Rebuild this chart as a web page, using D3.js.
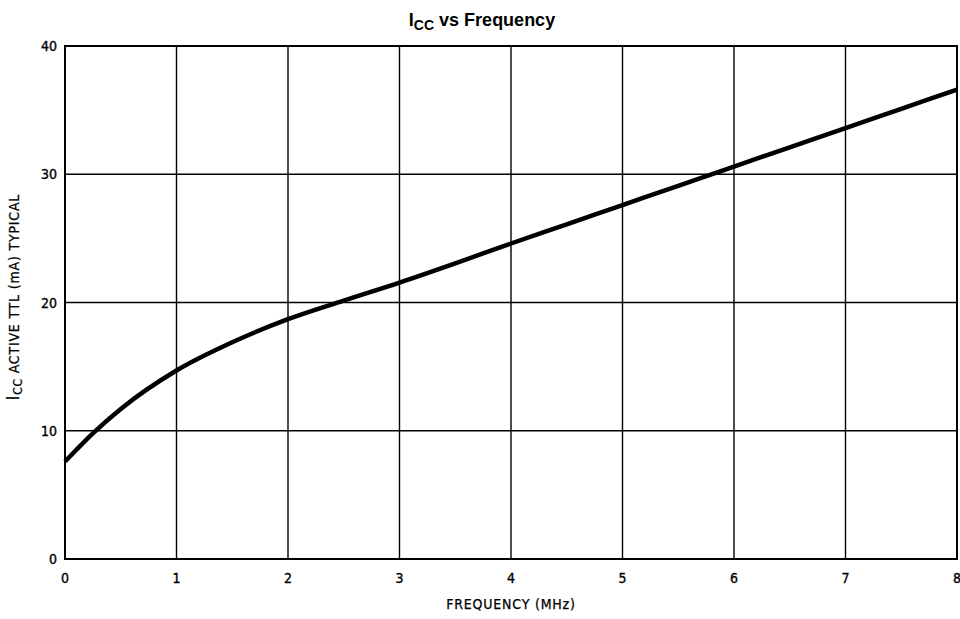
<!DOCTYPE html>
<html>
<head>
<meta charset="utf-8">
<script src="https://cdn.jsdelivr.net/npm/d3@7"></script>
<style>
  body { margin: 0; background: #fff; }
  .tick-label { font-family: "DejaVu Sans Condensed", "DejaVu Sans", sans-serif; font-size: 14px; fill: #000; stroke: #000; stroke-width: 0.35; }
  .axis-title { font-family: "DejaVu Sans Condensed", "DejaVu Sans", sans-serif; font-size: 14px; fill: #000; stroke: #000; stroke-width: 0.25; letter-spacing: 0.8px; }
  .chart-title { font-family: "Liberation Sans", Arial, sans-serif; font-size: 18px; font-weight: bold; fill: #000; }
</style>
</head>
<body>
<svg id="chart" width="960" height="619"></svg>
<script>
'use strict';

// Typical ICC (mA), by frequency (MHz).
var frequency = [0, 0.25, 0.5, 1, 1.5, 2, 2.5, 3, 3.5, 4, 4.5, 5, 5.5, 6, 6.5, 7, 7.5, 8];
var iccActive = [7.6, 9.8, 11.7, 14.7, 16.9, 18.7, 20.15, 21.55, 23.05, 24.6, 26.1, 27.6, 29.1, 30.6, 32.1, 33.6, 35.1, 36.6];

var xTicks = [0, 1, 2, 3, 4, 5, 6, 7, 8];
var yTicks = [0, 10, 20, 30, 40];

var svg = d3.select('#chart');
var plot = { left: 65, right: 957, top: 46, bottom: 559 };

var x = d3.scaleLinear().domain([0, 8]).range([plot.left, plot.right]);
var y = d3.scaleLinear().domain([0, 40]).range([plot.bottom, plot.top]);

// Grid lines.
svg.append('g')
    .selectAll('line')
    .data(xTicks)
    .enter()
    .append('line')
        .attr('x1', function(d) { return x(d); })
        .attr('x2', function(d) { return x(d); })
        .attr('y1', plot.top)
        .attr('y2', plot.bottom)
        .attr('stroke', '#000')
        .attr('stroke-width', 1.4);

svg.append('g')
    .selectAll('line')
    .data(yTicks)
    .enter()
    .append('line')
        .attr('x1', plot.left)
        .attr('x2', plot.right)
        .attr('y1', function(d) { return y(d); })
        .attr('y2', function(d) { return y(d); })
        .attr('stroke', '#000')
        .attr('stroke-width', 1.4);

// Frame.
svg.append('rect')
    .attr('x', plot.left)
    .attr('y', plot.top)
    .attr('width', plot.right - plot.left)
    .attr('height', plot.bottom - plot.top)
    .attr('fill', 'none')
    .attr('stroke', '#000')
    .attr('stroke-width', 2);

// Tick labels.
svg.append('g')
    .selectAll('text')
    .data(xTicks)
    .enter()
    .append('text')
        .classed('tick-label', true)
        .attr('x', function(d) { return x(d); })
        .attr('y', plot.bottom + 24)
        .attr('text-anchor', 'middle')
        .text(function(d) { return d; });

svg.append('g')
    .selectAll('text')
    .data(yTicks)
    .enter()
    .append('text')
        .classed('tick-label', true)
        .attr('x', plot.left - 8)
        .attr('y', function(d) { return y(d) + 5; })
        .attr('text-anchor', 'end')
        .text(function(d) { return d; });

// The curve.
var line = d3.line()
    .x(function(d, i) { return x(frequency[i]); })
    .y(function(d) { return y(d); })
    .curve(d3.curveMonotoneX);

svg.append('path')
    .datum(iccActive)
    .attr('d', line)
    .attr('fill', 'none')
    .attr('stroke', '#000')
    .attr('stroke-width', 4.5)
    .attr('stroke-linecap', 'butt');

// Titles.
var title = svg.append('text')
    .classed('chart-title', true)
    .attr('x', 482)
    .attr('y', 26)
    .attr('text-anchor', 'middle');
title.append('tspan').text('I');
title.append('tspan').attr('dy', 4).style('font-size', '14px').text('CC');
title.append('tspan').attr('dy', -4).text(' vs Frequency');

svg.append('text')
    .classed('axis-title', true)
    .attr('x', 511)
    .attr('y', 609)
    .attr('text-anchor', 'middle')
    .text('FREQUENCY (MHz)');

var yTitle = svg.append('text')
    .classed('axis-title', true)
    .attr('transform', 'translate(19,297) rotate(-90)')
    .attr('text-anchor', 'middle');
yTitle.append('tspan').style('font-size', '17px').text('I');
yTitle.append('tspan').attr('dy', 3).style('font-size', '12px').text('CC');
yTitle.append('tspan').attr('dy', -3).text(' ACTIVE TTL (mA) TYPICAL');
</script>
</body>
</html>
